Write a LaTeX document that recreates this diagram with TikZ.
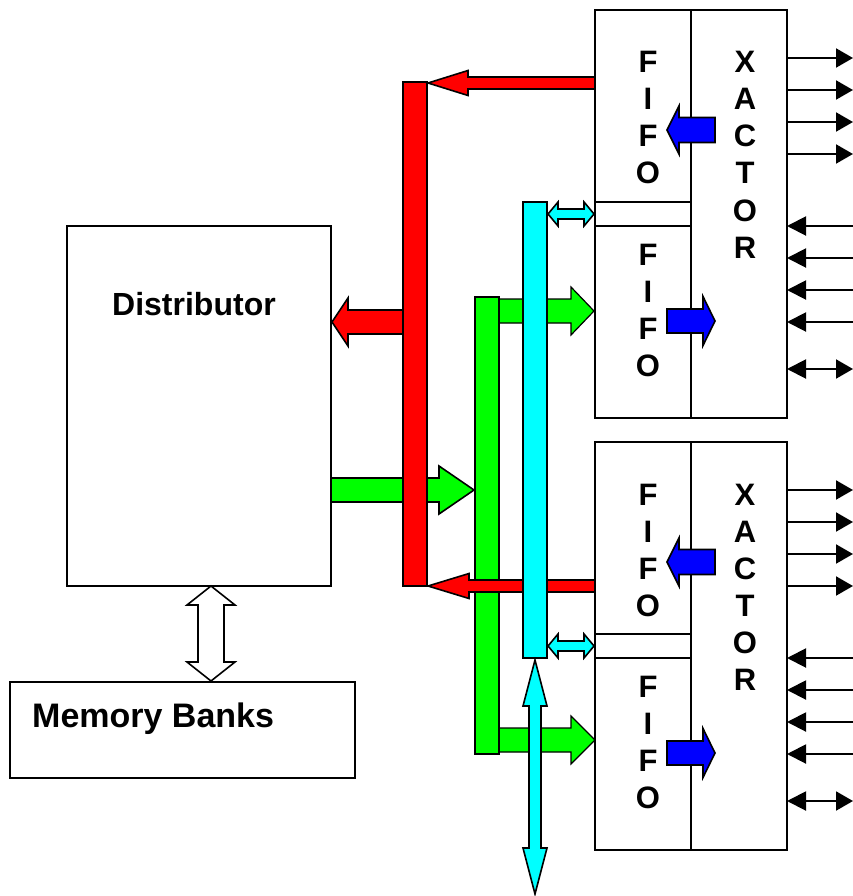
\documentclass[tikz,border=0pt]{standalone}
\usepackage{fontspec}
\setmainfont{Liberation Sans}
\usetikzlibrary{arrows.meta}
\definecolor{cRed}{RGB}{255,0,0}
\definecolor{cGreen}{RGB}{0,255,0}
\definecolor{cCyan}{RGB}{0,255,255}
\definecolor{cBlue}{RGB}{0,0,255}
\tikzset{
  box/.style={draw, line width=2pt, fill=white, inner sep=0pt, outer sep=0pt},
  blk/.style={draw, line width=1.6pt, line join=miter},
  busbar/.style={blk, inner sep=0pt, outer sep=0pt, minimum width=24pt},
  outarr/.style={line width=2pt, -{Triangle[length=17pt,width=19pt]}},
  inarr/.style={line width=2pt, -{Triangle[length=19pt,width=19pt]}},
  bidarr/.style={line width=2pt, {Triangle[length=19pt,width=19pt]}-{Triangle[length=17pt,width=19pt]}},
  letter/.style={font=\bfseries\fontsize{31}{37}\selectfont, anchor=base, inner sep=0pt},
  label/.style={anchor=base west, inner sep=0pt},
}
% horizontal block arrow: tail x, tip x, y, shaft half, head half, signed head length
\newcommand{\harr}[7][]{%
  \draw[blk,#1] (#2,{#4-#5}) -- ({#3-#7},{#4-#5}) -- ({#3-#7},{#4-#6}) -- (#3,#4)
    -- ({#3-#7},{#4+#6}) -- ({#3-#7},{#4+#5}) -- (#2,{#4+#5}) -- cycle;}
% horizontal double block arrow: left x, right x, y, shaft half, head half, head length
\newcommand{\hdarr}[7][]{%
  \draw[blk,#1] (#2,#4) -- ({#2+#7},{#4-#6}) -- ({#2+#7},{#4-#5}) -- ({#3-#7},{#4-#5})
    -- ({#3-#7},{#4-#6}) -- (#3,#4) -- ({#3-#7},{#4+#6}) -- ({#3-#7},{#4+#5})
    -- ({#2+#7},{#4+#5}) -- ({#2+#7},{#4+#6}) -- cycle;}
% vertical double block arrow: x, top y, bottom y, shaft half, head half, head length
\newcommand{\vdarr}[7][]{%
  \draw[blk,#1] (#2,#3) -- ({#2+#6},{#3+#7}) -- ({#2+#5},{#3+#7}) -- ({#2+#5},{#4-#7})
    -- ({#2+#6},{#4-#7}) -- (#2,#4) -- ({#2-#6},{#4-#7}) -- ({#2-#5},{#4-#7})
    -- ({#2-#5},{#3+#7}) -- ({#2-#6},{#3+#7}) -- cycle;}
\begin{document}
\begin{tikzpicture}[x=1pt,y=-1pt]
\useasboundingbox (0,0) rectangle (853,896);

% main boxes
\node[box, minimum width=264pt, minimum height=360pt] (dist) at (199,406) {};
\node[label, font=\bfseries\fontsize{32}{38}\selectfont] (distlbl) at (112,315) {Distributor};
\node[box, minimum width=345pt, minimum height=96pt] (mem) at (182.5,730) {};
\node[label, font=\bfseries\fontsize{34}{40}\selectfont] (memlbl) at (32,727) {Memory Banks};

% two FIFO / XACTOR blocks
\foreach \k/\dy in {1/0, 2/432} {
  \node[box, minimum width=96pt, minimum height=408pt] (f\k) at (643,{214+\dy}) {};
  \node[box, minimum width=96pt, minimum height=408pt] (x\k) at (739,{214+\dy}) {};
  \node[box, minimum width=96pt, minimum height=24pt] (m\k) at (643,{214+\dy}) {};
  \foreach \ch [count=\i] in {F,I,F,O} {
    \node[letter] (fa\k\i) at (648,{73+37*(\i-1)+\dy}) {\ch};
    \node[letter] (fb\k\i) at (648,{265+37*(\i-1)+\dy}) {\ch};
  }
  \foreach \ch [count=\i] in {X,A,C,T,O,R}
    \node[letter] (xl\k\i) at (745,{73+37*(\i-1)+\dy}) {\ch};
  \foreach \yy in {58,90,122,154}
    \draw[outarr] (x\k.east |- {(0,\yy+\dy)}) -- (853,{\yy+\dy});
  \foreach \yy in {226,258,290,322}
    \draw[inarr] (853,{\yy+\dy}) -- (x\k.east |- {(0,\yy+\dy)});
  \draw[bidarr] (x\k.east |- {(0,369+\dy)}) -- (853,{369+\dy});
}

% green arrow Distributor -> green bus
\harr[fill=cGreen]{331}{474}{490}{12}{24}{35}
% red arrow red bus -> Distributor
\harr[fill=cRed]{403}{332}{322}{12}{24}{-16}
% red bus
\node[busbar, fill=cRed, minimum height=504pt] (redbus) at (415,334) {};
% red arrow from upper FIFO
\harr[fill=cRed]{595}{428}{83}{6}{12.5}{-40}
% green arrows from green bus to the input FIFOs
\harr[fill=cGreen, line width=1.2pt]{490}{594}{311}{12}{24}{23}
\harr[fill=cGreen, line width=1.2pt]{490}{595}{740}{12}{24}{24}
% green bus
\node[busbar, fill=cGreen, minimum height=457pt] (greenbus) at (487,525.5) {};
% red arrow from lower block
\harr[fill=cRed]{595}{428}{586}{6}{12.5}{-41}
% cyan bus
\node[busbar, fill=cCyan, minimum height=456pt] (cyanbus) at (535,430) {};
\hdarr[fill=cCyan]{548}{594}{214}{5}{12}{10}
\hdarr[fill=cCyan]{548}{594}{646}{5}{12}{10}
\vdarr[fill=cCyan]{535}{660}{894}{6}{12}{46}

% blue arrows
\foreach \dy in {0,432} {
  \harr[fill=cBlue]{715}{667}{130+\dy}{12.5}{24}{-12}
  \harr[fill=cBlue]{667}{715}{321+\dy}{12}{24.5}{12}
}

% white double arrow Distributor <-> Memory Banks
\vdarr[fill=white]{211}{586}{681}{13}{24}{19}
\end{tikzpicture}
\end{document}
